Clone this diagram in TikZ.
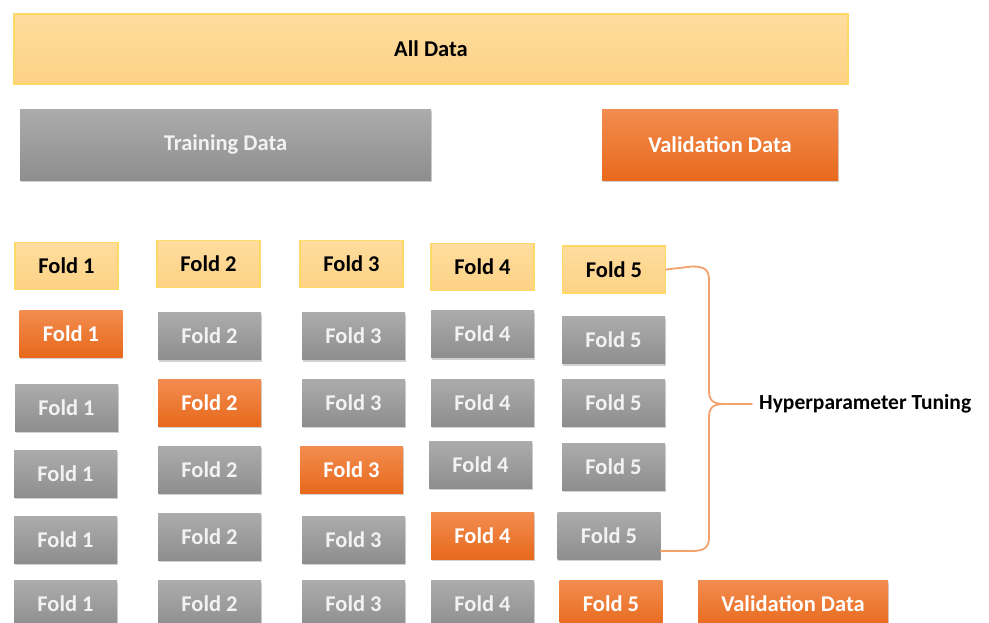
\documentclass[tikz,border=0pt]{standalone}
\usepackage{fontspec}
\setmainfont{Carlito}
\usetikzlibrary{shadows}
\definecolor{ylwtop}{HTML}{FEDD9E}
\definecolor{ylwbot}{HTML}{FDD285}
\definecolor{ylwline}{HTML}{FFD966}
\definecolor{grytop}{HTML}{ACACAC}
\definecolor{grybot}{HTML}{8E8E8E}
\definecolor{orgtop}{HTML}{F28D50}
\definecolor{orgbot}{HTML}{E8691C}
\definecolor{bracecol}{HTML}{F4A26C}
\definecolor{grytext}{HTML}{F2F2F2}
\tikzset{
  boxbase/.style={rectangle, inner sep=0pt, font=\bfseries\fontsize{22.5}{26}\selectfont},
  ylwbox/.style={boxbase, top color=ylwtop, bottom color=ylwbot, draw=ylwline, line width=1.2pt, text=black},
  grybox/.style={boxbase, top color=grytop, bottom color=grybot, text=grytext,
    drop shadow={shadow xshift=0.5pt, shadow yshift=-2pt, opacity=0.3, fill=black!60}},
  orgbox/.style={boxbase, top color=orgtop, bottom color=orgbot, text=white,
    drop shadow={shadow xshift=0.5pt, shadow yshift=-2pt, opacity=0.3, fill=black!60}},
  fold/.style={minimum width=103pt, minimum height=47pt},
  bracepath/.style={draw=bracecol, line width=1.8pt, line cap=round, line join=round},
}
\begin{document}
\begin{tikzpicture}[x=1pt,y=-1pt]
\useasboundingbox (0,0) rectangle (989,622);
% top
\node[ylwbox, minimum width=834pt, minimum height=70pt] (all) at (431,49) {All Data};
\node[grybox, minimum width=411pt, minimum height=71pt] (train) at (225.5,144.5) {Training Data};
\node[orgbox, minimum width=236pt, minimum height=71pt] (val) at (720,144.5) {Validation Data};
% header row
\node[ylwbox, fold] (r0c1) at (66.5,266) {Fold 1};
\node[ylwbox, fold] (r0c2) at (208.5,264) {Fold 2};
\node[ylwbox, fold] (r0c3) at (351.5,264) {Fold 3};
\node[ylwbox, fold] (r0c4) at (482.5,267) {Fold 4};
\node[ylwbox, fold] (r0c5) at (614,269.5) {Fold 5};
% row 1
\node[orgbox, fold] (r1c1) at (71,333.5) {Fold 1};
\node[grybox, fold] (r1c2) at (209.5,336) {Fold 2};
\node[grybox, fold] (r1c3) at (353.5,336) {Fold 3};
\node[grybox, fold] (r1c4) at (482.5,334) {Fold 4};
\node[grybox, fold] (r1c5) at (613.5,340) {Fold 5};
% row 2
\node[grybox, fold] (r2c1) at (66.5,407.5) {Fold 1};
\node[orgbox, fold] (r2c2) at (209.5,402.5) {Fold 2};
\node[grybox, fold] (r2c3) at (353.5,402.5) {Fold 3};
\node[grybox, fold] (r2c4) at (482.5,402.5) {Fold 4};
\node[grybox, fold] (r2c5) at (613.5,402.5) {Fold 5};
% row 3
\node[grybox, fold] (r3c1) at (65.5,473.5) {Fold 1};
\node[grybox, fold] (r3c2) at (209.5,469.5) {Fold 2};
\node[orgbox, fold] (r3c3) at (351.5,469.5) {Fold 3};
\node[grybox, fold] (r3c4) at (480.5,464.5) {Fold 4};
\node[grybox, fold] (r3c5) at (613.5,466.5) {Fold 5};
% row 4
\node[grybox, fold] (r4c1) at (65.5,539.5) {Fold 1};
\node[grybox, fold] (r4c2) at (209.5,536.5) {Fold 2};
\node[grybox, fold] (r4c3) at (353.5,539.5) {Fold 3};
\node[orgbox, fold] (r4c4) at (482.5,535.5) {Fold 4};
\node[grybox, fold] (r4c5) at (609,535.5) {Fold 5};
% row 5
\node[grybox, fold] (r5c1) at (65.5,604) {Fold 1};
\node[grybox, fold] (r5c2) at (209.5,604) {Fold 2};
\node[grybox, fold] (r5c3) at (353.5,604) {Fold 3};
\node[grybox, fold] (r5c4) at (482.5,604) {Fold 4};
\node[orgbox, fold] (r5c5) at (611,604) {Fold 5};
\node[orgbox, minimum width=190pt, minimum height=47pt] (val2) at (793,604) {Validation Data};
% brace
\coordinate (bb) at (r4c5.east |- 0,551);
\coordinate (tip) at (752,404);
\draw[bracepath] (r0c5.east) -- (692,266.5) .. controls (705,266.5) and (709,270) .. (709,280)
  -- (709,390) .. controls (709,400) and (712,404) .. (725,404) -- (tip);
\draw[bracepath] (725,404) .. controls (712,404) and (709,408) .. (709,418)
  -- (709,537) .. controls (709,547) and (705,551) .. (692,551) -- (bb);
\node[anchor=west, inner sep=0pt, font=\bfseries\fontsize{21.5}{25}\selectfont] (hyp) at (759,404) {Hyperparameter Tuning};
\end{tikzpicture}
\end{document}
